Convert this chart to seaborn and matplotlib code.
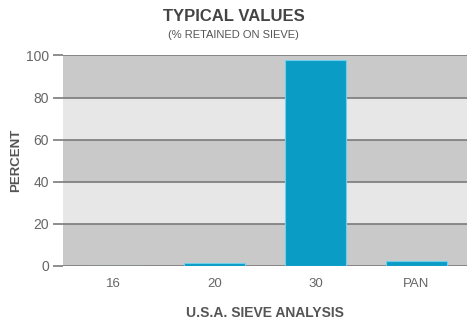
import matplotlib
matplotlib.use("Agg")
import matplotlib.pyplot as plt
import seaborn as sns
import pandas as pd

# Sieve analysis: percent retained on each U.S.A. sieve
sieves = ["16", "20", "30", "PAN"]
retained = [0.0, 1.5, 98.0, 2.5]
y_ticks = [0, 20, 40, 60, 80, 100]

sns.set_theme(style="white")
plt.rcParams["font.family"] = ["Liberation Sans", "DejaVu Sans"]

df = pd.DataFrame({"sieve": sieves, "retained": retained})

fig = plt.figure(figsize=(4.67, 3.22), dpi=100)
ax = fig.add_axes([0.135, 0.174, 0.865, 0.654])

# alternating gray bands between gridlines
band_dark = "#c9c9c9"
band_light = "#e7e7e7"
for i in range(len(y_ticks) - 1):
    ax.axhspan(y_ticks[i], y_ticks[i + 1],
               color=band_dark if i % 2 == 0 else band_light, zorder=0, lw=0)
for t in y_ticks:
    ax.axhline(t, color="#7a7a7a", lw=1.2, zorder=1)

sns.barplot(data=df, x="sieve", y="retained", color="#0b9cc6",
            width=0.6, saturation=1, linewidth=0.8, edgecolor="#6fd0ec",
            ax=ax, zorder=2)

ax.set_ylim(0, 100)
ax.set_xlim(-0.5, 3.5)
ax.set_yticks(y_ticks)
ax.tick_params(axis="y", length=7, width=1.2, color="#7a7a7a",
               labelsize=10, labelcolor="#666666", pad=3, left=True)
ax.tick_params(axis="x", length=0, labelsize=9.5, labelcolor="#666666", pad=9)
for s in ax.spines.values():
    s.set_visible(False)

ax.set_ylabel("PERCENT", fontsize=9.5, fontweight="bold", color="#555555", labelpad=3)
ax.set_xlabel("U.S.A. SIEVE ANALYSIS", fontsize=10, fontweight="bold",
              color="#555555", labelpad=11)

fig.text(0.5, 0.950, "TYPICAL VALUES", ha="center", va="center",
         fontsize=12, fontweight="bold", color="#444444")
fig.text(0.5, 0.890, "(% RETAINED ON SIEVE)", ha="center", va="center",
         fontsize=8, color="#555555")

fig.savefig("out.png", dpi=100)
